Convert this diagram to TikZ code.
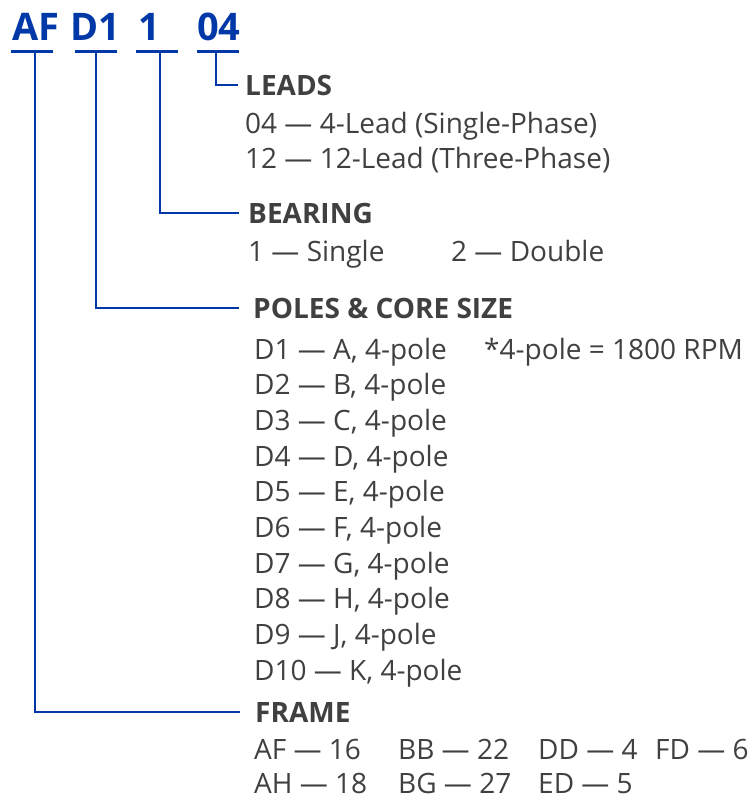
\documentclass[tikz,border=0pt]{standalone}
\usepackage{fontspec}
\setmainfont{Open Sans}
\definecolor{codeblue}{RGB}{0,56,168}
\definecolor{textgray}{RGB}{64,64,64}
\tikzset{
  code/.style={font=\fontsize{38}{40}\selectfont\bfseries, text=codeblue, anchor=base west, inner sep=0pt},
  head/.style={font=\fontsize{28}{30}\selectfont\bfseries, text=textgray, anchor=west, inner sep=0pt},
  entry/.style={font=\fontsize{28}{30}\selectfont, text=textgray, anchor=base west, inner sep=0pt},
  wire/.style={codeblue, line width=2.2pt},
  bar/.style={codeblue, line width=3pt}
}

\begin{document}
\begin{tikzpicture}[x=1pt,y=-1pt]

\useasboundingbox (0,0) rectangle (751,798);

% Model code
\node[code] (frm) at (12,40) {AF};
\node[code] (pol) at (70,40) {D1};
\node[code] (brg) at (138,40) {1};
\node[code] (lds) at (197,40) {04};

% Underlines
\draw[bar] (11,51) -- (53,51);
\draw[bar] (75,51) -- (117,51);
\draw[bar] (136,51) -- (178,51);
\draw[bar] (197,51) -- (239,51);
\coordinate (uFrm) at (35,51);
\coordinate (uPol) at (96,51);
\coordinate (uBrg) at (160,51);
\coordinate (uLds) at (216,51);

% Headings
\node[head] (hLds) at (245,85) {LEADS};
\node[head] (hBrg) at (248,213) {BEARING};
\node[head] (hPol) at (253,308) {POLES \& CORE SIZE};
\node[head] (hFrm) at (255,712) {FRAME};

% Connectors
\draw[wire] (uLds) |- ([xshift=-7pt]hLds.west);
\draw[wire] (uBrg) |- ([xshift=-9pt]hBrg.west);
\draw[wire] (uPol) |- ([xshift=-14pt]hPol.west);
\draw[wire] (uFrm) |- ([xshift=-15pt]hFrm.west);

% Leads
\node[entry] (l04) at (245,133) {04 — 4-Lead (Single-Phase)};
\node[entry] (l12) at (245,168) {12 — 12-Lead (Three-Phase)};

% Bearing
\node[entry] (b1) at (248,261) {1 — Single};
\node[entry] (b2) at (451,261) {2 — Double};

% Poles and core size
\foreach \i/\c in {1/A,2/B,3/C,4/D,5/E,6/F,7/G,8/H,9/J,10/K}{
\node[entry] (d\i) at (254,{359+(\i-1)*35.7}) {D\i{} — \c, 4-pole};
}
\node[entry] (rpm) at (484,359) {*4-pole = 1800 RPM};

% Frame
\foreach \x/\y/\t/\n in {
254/759/AF/16,
398/759/BB/22,
538/759/DD/4,
655/759/FD/6,
254/793/AH/18,
398/793/BG/27,
538/793/ED/5
}{
\node[entry] (f\t) at (\x,\y) {\t{} — \n};
}

\end{tikzpicture}
\end{document}
